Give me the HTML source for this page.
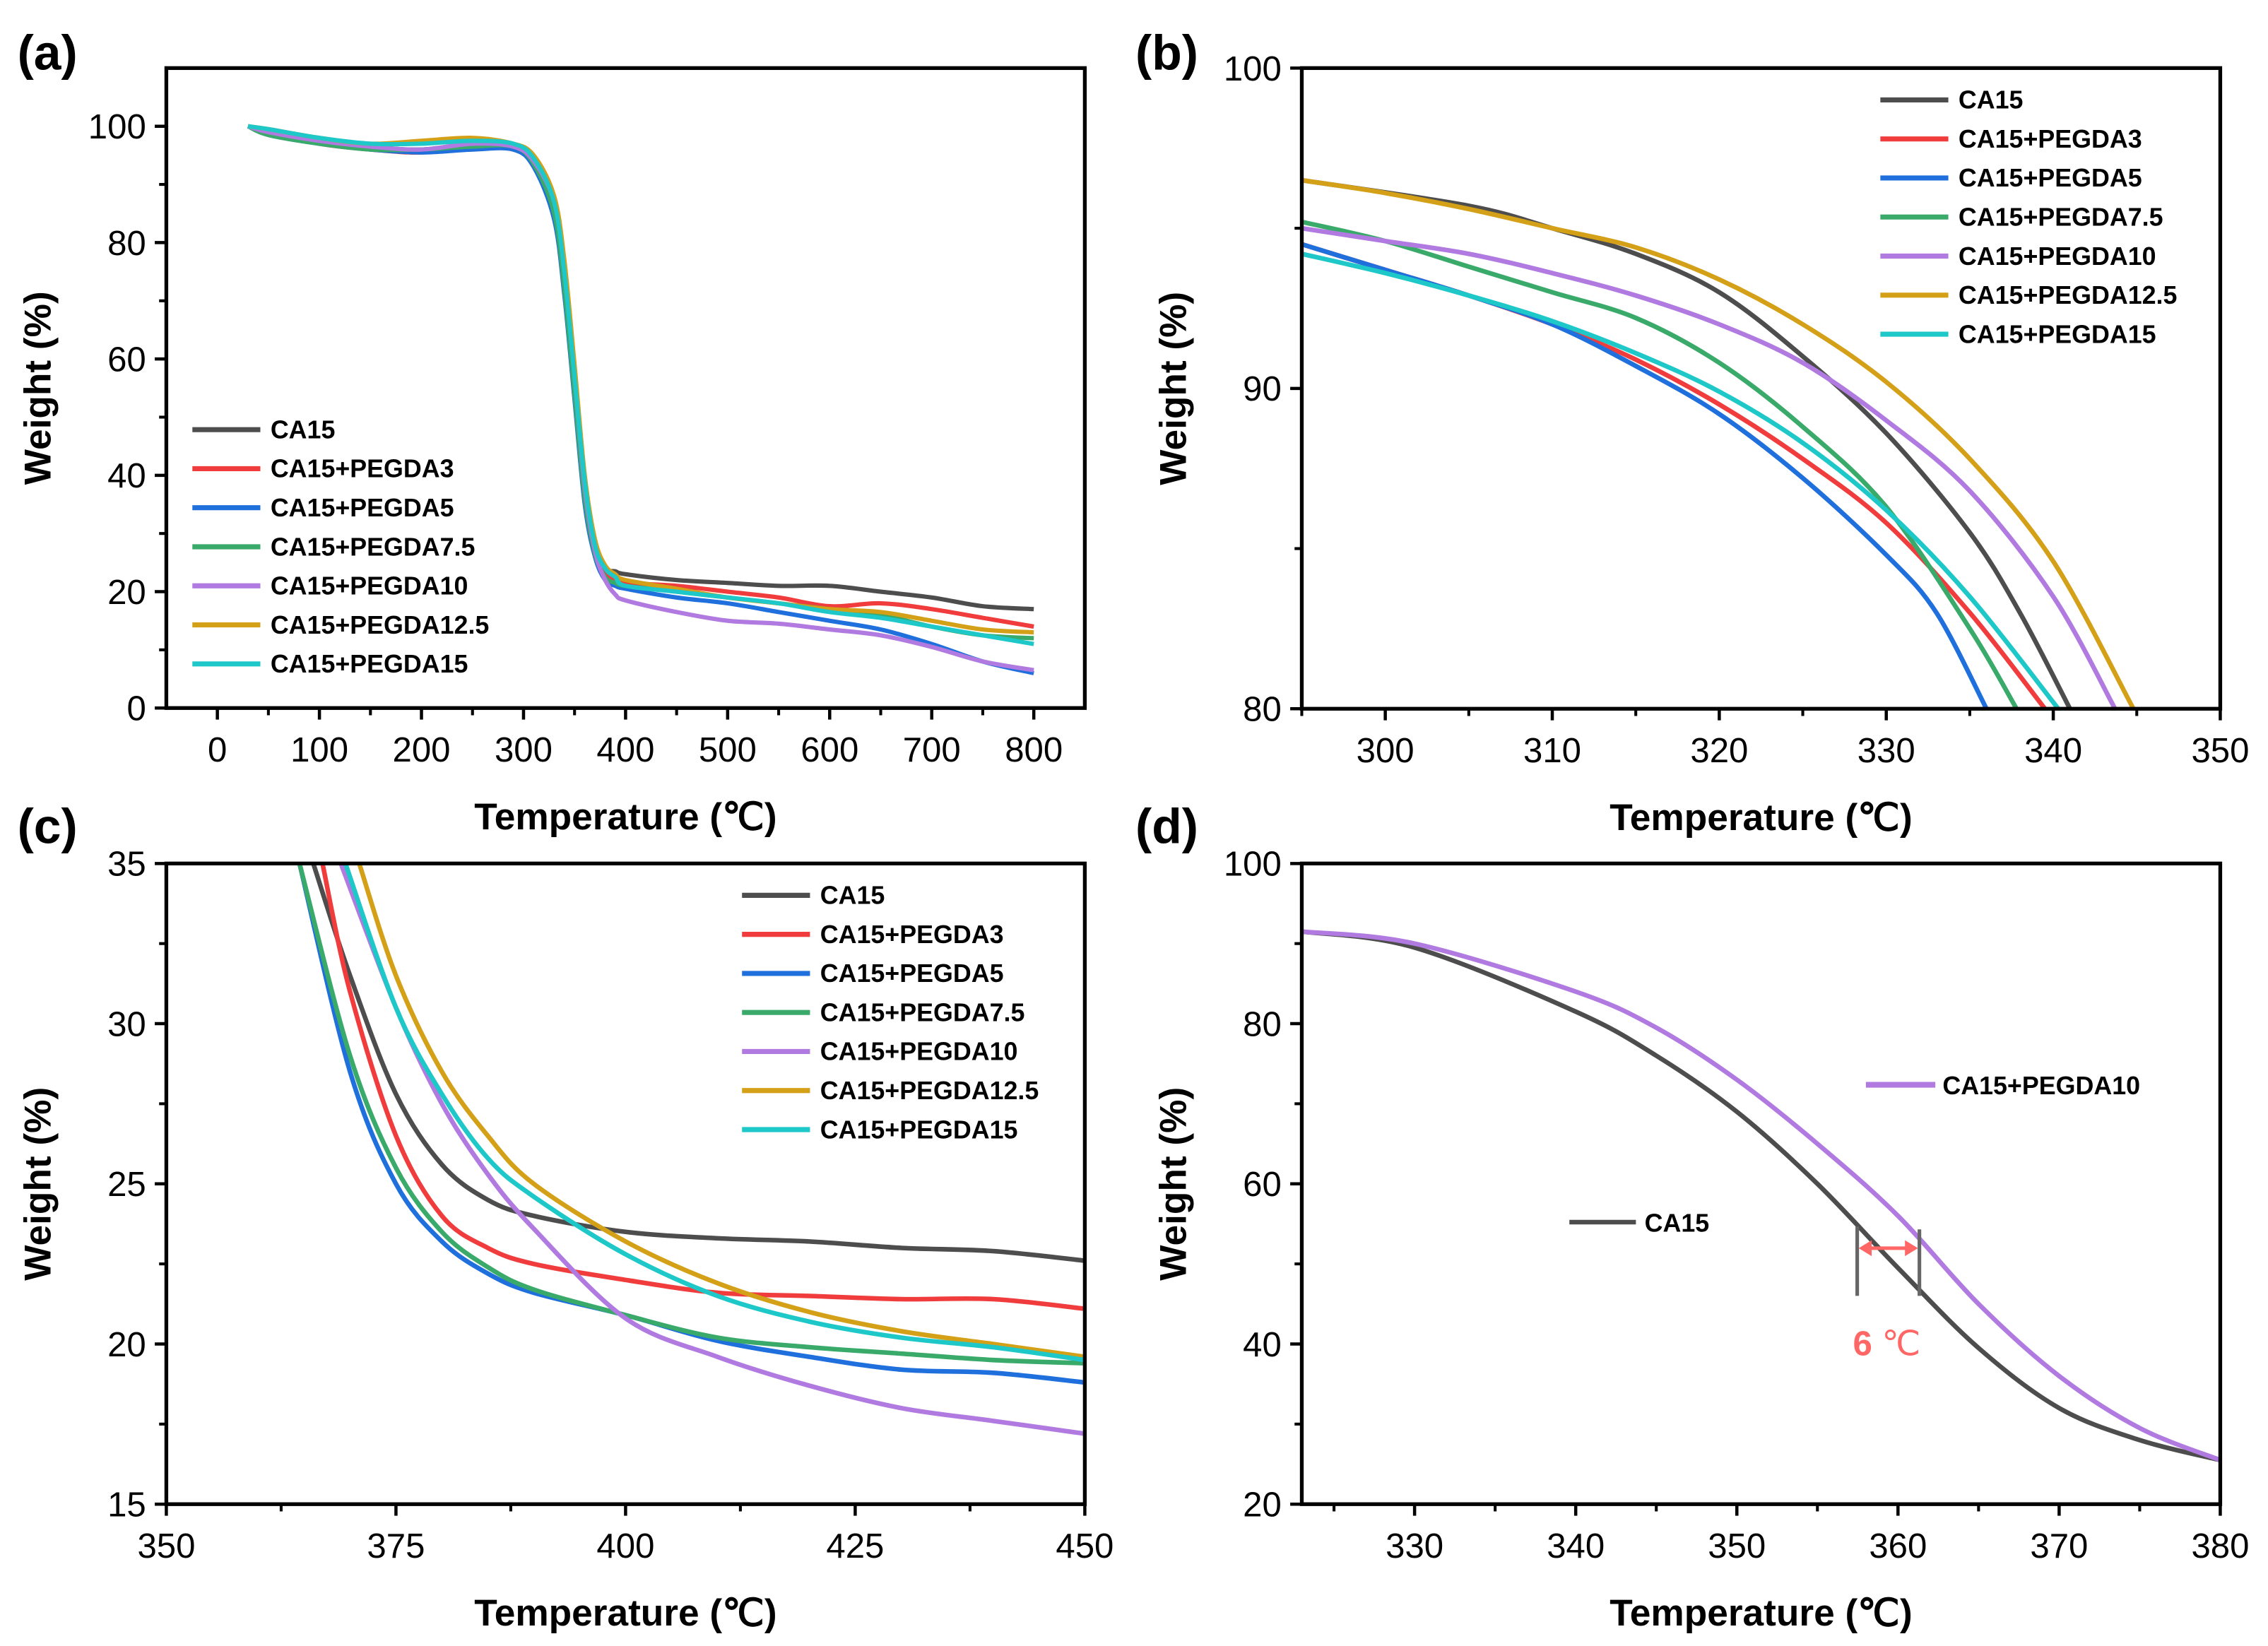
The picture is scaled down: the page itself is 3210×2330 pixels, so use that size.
<!DOCTYPE html>
<html><head><meta charset="utf-8"><title>TGA curves</title>
<style>
html,body{margin:0;padding:0;background:#fff;}
svg{display:block;font-family:"Liberation Sans",Arial,sans-serif;}
</style></head>
<body>
<svg id="fig" width="3210" height="2330" viewBox="0 0 1568 1138" xmlns="http://www.w3.org/2000/svg"></svg>
<script>
// ---------- DATA ----------
const seriesNames = ["CA15","CA15+PEGDA3","CA15+PEGDA5","CA15+PEGDA7.5","CA15+PEGDA10","CA15+PEGDA12.5","CA15+PEGDA15"];
const seriesKeys = ["ca15","pegda3","pegda5","pegda7-5","pegda10","pegda12-5","pegda15"];
const seriesColors = ["#4d4d4d","#f03c3c","#1f6fdc","#3aaa6a","#b07ae0","#d4a017","#1ec8c8"];

// Panel (a): full TGA
const tempsA = [30,50,100,150,200,250,290,310,330,340,350,360,370,380,390,400,450,500,550,600,650,700,750,800];
const aCA15    = [100,99,97.5,96.5,96,97,96.5,94,86,74,56,38,28,24,23.5,23,22,21.5,21,21,20,19,17.5,17];
const aPEGDA3  = [100,99,97,96,95.5,96.5,96,93.5,85,72,54,36,27,23,22,21.5,21,20,19,17.5,18,17,15.5,14];
const aPEGDA5  = [100,98.5,97,96,95.5,96,96,93,84,71,53,35,26,22,21,20.5,19,18,16.5,15,13.5,11,8,6];
const aPEGDA75 = [100,98.5,97,96,96,96.5,96.5,93.5,85,72,54,36,26.5,22.5,21.5,21,20,19,18,17,16,14,12.5,12];
const aPEGDA10 = [100,99,97.5,96.5,96,97,96.5,94,87,75,57,38,27,22,19.5,18.5,16.5,15,14.5,13.5,12.5,10.5,8,6.5];
const aPEGDA125= [100,99.5,98,97,97.5,98,97,95,88,77,59,40,29,24.5,23,22,20.5,19,18,17,16.5,15,13.5,13];
const aPEGDA15 = [100,99.5,98,97,97,97.5,97,94.5,87,75,57,39,28,24,22.5,21,20,19,18,16.5,15.5,14,12.5,11];
const seriesA = [aCA15,aPEGDA3,aPEGDA5,aPEGDA75,aPEGDA10,aPEGDA125,aPEGDA15];

// Panel (b): zoom 295-350
const bT_CA15 = [295,305,310,315,320,325,330,335,338,341];
const bW_CA15 = [96.5,95.7,95.0,94.2,93.0,91.0,88.6,85.5,83,80];
const bT_P3 = [295,300,305,310,315,320,325,330,335,339.5];
const bW_P3 = [94.5,93.7,92.9,92.0,90.9,89.5,87.8,85.8,83,80];
const bT_P5 = [295,300,305,310,315,320,325,330,333,336];
const bW_P5 = [94.5,93.7,92.9,92.0,90.7,89.2,87.2,84.8,83,80];
const bT_P75 = [295,300,305,310,315,320,325,330,335,337.8];
const bW_P75 = [95.2,94.6,93.8,93.0,92.2,90.8,88.8,86.3,82.5,80];
const bT_P10 = [295,300,305,310,315,320,325,330,335,340,343.7];
const bW_P10 = [95.0,94.6,94.2,93.6,92.9,92.0,90.8,89.0,86.8,83.5,80];
const bT_P125 = [295,300,305,310,315,320,325,330,335,340,344.8];
const bW_P125 = [96.5,96.1,95.6,95.0,94.4,93.4,92.0,90.2,87.8,84.6,80];
const bT_P15 = [295,300,305,310,315,320,325,330,335,340.3];
const bW_P15 = [94.2,93.6,92.9,92.1,91.1,89.9,88.3,86.2,83.5,80];
const seriesBT = [bT_CA15,bT_P3,bT_P5,bT_P75,bT_P10,bT_P125,bT_P15];
const seriesBW = [bW_CA15,bW_P3,bW_P5,bW_P75,bW_P10,bW_P125,bW_P15];

// Panel (c): zoom 350-450
const cT_CA15 = [366,370,375,380,385,390,400,410,420,430,440,450];
const cW_CA15 = [35,31.5,27.8,25.6,24.5,24,23.5,23.3,23.2,23,22.9,22.6];
const cT_P3 = [367,370,375,380,385,390,400,410,420,430,440,450];
const cW_P3 = [35,31,26.5,24,23,22.5,22,21.6,21.5,21.4,21.4,21.1];
const cT_P5 = [364.5,370,375,380,385,390,400,410,420,430,440,450];
const cW_P5 = [35,28.5,25,23.2,22.2,21.6,20.9,20.1,19.6,19.2,19.1,18.8];
const cT_P75 = [364.5,370,375,380,385,390,400,410,420,430,440,450];
const cW_P75 = [35,29,25.5,23.5,22.4,21.7,20.9,20.2,19.9,19.7,19.5,19.4];
const cT_P10 = [369,375,380,385,390,400,410,420,430,440,450];
const cW_P10 = [35,30.5,27.5,25.3,23.6,20.8,19.6,18.7,18.0,17.6,17.2];
const cT_P125 = [371,375,380,385,390,400,410,420,430,440,450];
const cW_P125 = [35,31.5,28.5,26.5,25,23.2,21.9,21,20.4,20,19.6];
const cT_P15 = [369.5,375,380,385,390,400,410,420,430,440,450];
const cW_P15 = [35,30.5,27.8,25.8,24.6,22.8,21.5,20.7,20.2,19.9,19.5];
const seriesCT = [cT_CA15,cT_P3,cT_P5,cT_P75,cT_P10,cT_P125,cT_P15];
const seriesCW = [cW_CA15,cW_P3,cW_P5,cW_P75,cW_P10,cW_P125,cW_P15];

// Panel (d): CA15 vs PEGDA10
const dTemps = [323,330,340,345,350,355,360,365,370,375,380];
const dCA15 = [91.5,89.5,81.5,76,69,60,49.5,39.5,32,28,25.5];
const dPEGDA10 = [91.5,90,84,79.5,73,65,56,45,36,29.5,25.5];

// tick labels
const ticksAx = [0,100,200,300,400,500,600,700,800];
const ticksAy = [0,20,40,60,80,100];
const ticksBx = [300,310,320,330,340,350];
const ticksBy = [80,90,100];
const ticksCx = [350,375,400,425,450];
const ticksCy = [15,20,25,30,35];
const ticksDx = [330,340,350,360,370,380];
const ticksDy = [20,40,60,80,100];

// ---------- DRAWING ----------
const NS = "http://www.w3.org/2000/svg";
const svg = document.getElementById("fig");
function mk(tag, attrs, parent){
  const e = document.createElementNS(NS, tag);
  for (const k in attrs) e.setAttribute(k, attrs[k]);
  (parent||svg).appendChild(e);
  return e;
}
function makeAxes(x0,x1,y0,y1,xmin,xmax,ymin,ymax){
  return {
    sx: v => x0 + (v - xmin) / (xmax - xmin) * (x1 - x0),
    sy: v => y1 - (v - ymin) / (ymax - ymin) * (y1 - y0),
    x0, x1, y0, y1, xmin, xmax, ymin, ymax
  };
}
function smoothPath(pts){
  if (pts.length < 2) return "";
  let d = "M" + pts[0][0].toFixed(2) + "," + pts[0][1].toFixed(2);
  for (let i = 0; i < pts.length - 1; i++){
    const p0 = pts[i-1] || pts[i], p1 = pts[i], p2 = pts[i+1], p3 = pts[i+2] || p2;
    const c1x = p1[0] + (p2[0]-p0[0])/6, c1y = p1[1] + (p2[1]-p0[1])/6;
    const c2x = p2[0] - (p3[0]-p1[0])/6, c2y = p2[1] - (p3[1]-p1[1])/6;
    d += " C" + c1x.toFixed(2)+","+c1y.toFixed(2)+" "+c2x.toFixed(2)+","+c2y.toFixed(2)+" "+p2[0].toFixed(2)+","+p2[1].toFixed(2);
  }
  return d;
}
function drawFrame(g, ax, xt, xminor, yt, yminor){
  const gr = mk("g", {}, g);
  
  
  mk("rect", {x:ax.x0, y:ax.y0, width:ax.x1-ax.x0, height:ax.y1-ax.y0, fill:"none", stroke:"#000", "stroke-width":2.6}, gr);
  const xg = mk("g", {}, g);
  
  
  for (const v of xt){
    const x = ax.sx(v);
    mk("line", {x1:x, x2:x, y1:ax.y1, y2:ax.y1+8, stroke:"#000", "stroke-width":2.2}, xg);
    const t = mk("text", {x:x, y:ax.y1+37, "text-anchor":"middle", "font-size":24, fill:"#000"}, xg);
    t.textContent = v;
    
    
  }
  for (const v of xminor){
    const x = ax.sx(v);
    mk("line", {x1:x, x2:x, y1:ax.y1, y2:ax.y1+5, stroke:"#000", "stroke-width":2}, xg);
  }
  const yg = mk("g", {}, g);
  
  
  for (const v of yt){
    const y = ax.sy(v);
    mk("line", {x1:ax.x0-8, x2:ax.x0, y1:y, y2:y, stroke:"#000", "stroke-width":2.2}, yg);
    const t = mk("text", {x:ax.x0-14, y:y+8.5, "text-anchor":"end", "font-size":24, fill:"#000"}, yg);
    t.textContent = v;
    
    
  }
  for (const v of yminor){
    const y = ax.sy(v);
    mk("line", {x1:ax.x0-5, x2:ax.x0, y1:y, y2:y, stroke:"#000", "stroke-width":2}, yg);
  }
}
function titles(g, ax, labelText, labelX, labelY){
  const xt = mk("text", {x:(ax.x0+ax.x1)/2, y:ax.y1+84, "text-anchor":"middle", "font-size":26, "font-weight":"bold", fill:"#000"}, g);
  xt.textContent = "Temperature (℃)";
  
  
  const cy = (ax.y0+ax.y1)/2;
  const yx = ax.x0 - 80;
  const yt = mk("text", {x:yx, y:cy, "text-anchor":"middle", "font-size":26, "font-weight":"bold", fill:"#000", transform:"rotate(-90 "+yx+" "+cy+")"}, g);
  yt.textContent = "Weight (%)";
  
  
  const pl = mk("text", {x:labelX, y:labelY, "font-size":34, "font-weight":"bold", fill:"#000"}, g);
  pl.textContent = labelText;
  
  
}
function clipFor(id, ax){
  const cp = mk("clipPath", {id:id});
  mk("rect", {x:ax.x0, y:ax.y0, width:ax.x1-ax.x0, height:ax.y1-ax.y0}, cp);
}
function legend(g, x, y, step, idxs){
  const lg = mk("g", {}, g);
  
  
  idxs.forEach((i, k) => {
    const yy = y + k*step;
    const en = mk("g", {}, lg);
    
    
    mk("line", {x1:x, x2:x+47, y1:yy, y2:yy, stroke:seriesColors[i], "stroke-width":3.5}, en);
    const t = mk("text", {x:x+54, y:yy+6, "font-size":17.5, "font-weight":"bold", fill:"#000"}, en);
    t.textContent = seriesNames[i];
  });
}
function range(a,b,s){ const r=[]; for(let v=a; v<=b+1e-9; v+=s) r.push(+v.toFixed(4)); return r; }

// Panel A
(function(){
  const g = mk("g", {});  
  const ax = makeAxes(115,750,47,489.5,-50,850,0,110);
  clipFor("ca", ax);
  const lines = mk("g", {"clip-path":"url(#ca)"}, g);
  seriesA.forEach((vals, i) => {
    const p = mk("path", {d:smoothPath(tempsA.map((t,k)=>[ax.sx(t), ax.sy(vals[k])])), fill:"none", stroke:seriesColors[i], "stroke-width":3, "stroke-linejoin":"round"}, lines);
    
    
  });
  drawFrame(g, ax, ticksAx, range(-50,850,100).filter(v=>v>-50&&v<850), ticksAy, [10,30,50,70,90]);
  titles(g, ax, "(a)", 12, 48);
  legend(g, 133, 297, 27, [0,1,2,3,4,5,6]);
})();

// Panel B
(function(){
  const g = mk("g", {});  
  const ax = makeAxes(900,1535,47,490,295,350,80,100);
  clipFor("cb", ax);
  const lines = mk("g", {"clip-path":"url(#cb)"}, g);
  seriesBT.forEach((ts, i) => {
    const p = mk("path", {d:smoothPath(ts.map((t,k)=>[ax.sx(t), ax.sy(seriesBW[i][k])])), fill:"none", stroke:seriesColors[i], "stroke-width":3.2, "stroke-linejoin":"round"}, lines);
    
    
  });
  drawFrame(g, ax, ticksBx, [295,305,315,325,335,345], ticksBy, [85,95]);
  titles(g, ax, "(b)", 785, 48);
  legend(g, 1300, 69, 27, [0,1,2,3,4,5,6]);
})();

// Panel C
(function(){
  const g = mk("g", {});  
  const ax = makeAxes(115,750,597,1040,350,450,15,35);
  clipFor("cc", ax);
  const lines = mk("g", {"clip-path":"url(#cc)"}, g);
  seriesCT.forEach((ts, i) => {
    const p = mk("path", {d:smoothPath(ts.map((t,k)=>[ax.sx(t), ax.sy(seriesCW[i][k])])), fill:"none", stroke:seriesColors[i], "stroke-width":3.2, "stroke-linejoin":"round"}, lines);
    
    
  });
  drawFrame(g, ax, ticksCx, [362.5,387.5,412.5,437.5], ticksCy, [17.5,22.5,27.5,32.5]);
  titles(g, ax, "(c)", 12, 583);
  legend(g, 513, 619, 27, [0,1,2,3,4,5,6]);
})();

// Panel D
(function(){
  const g = mk("g", {});  
  const ax = makeAxes(900,1535,597,1040,323,380,20,100);
  clipFor("cd", ax);
  const lines = mk("g", {"clip-path":"url(#cd)"}, g);
  const p1 = mk("path", {d:smoothPath(dTemps.map((t,k)=>[ax.sx(t), ax.sy(dCA15[k])])), fill:"none", stroke:seriesColors[0], "stroke-width":3.2}, lines);
  
  
  const p2 = mk("path", {d:smoothPath(dTemps.map((t,k)=>[ax.sx(t), ax.sy(dPEGDA10[k])])), fill:"none", stroke:seriesColors[4], "stroke-width":3.2}, lines);
  
  
  drawFrame(g, ax, ticksDx, [325,335,345,355,365,375], ticksDy, [30,50,70,90]);
  titles(g, ax, "(d)", 785, 583);
  // legends
  const l1 = mk("g", {}, g);  
  mk("line", {x1:1085, x2:1131, y1:845, y2:845, stroke:seriesColors[0], "stroke-width":3.2}, l1);
  const t1 = mk("text", {x:1137, y:851.5, "font-size":17.5, "font-weight":"bold"}, l1); t1.textContent = "CA15";
  const l2 = mk("g", {}, g);  
  mk("line", {x1:1290, x2:1338, y1:750, y2:750, stroke:seriesColors[4], "stroke-width":4}, l2);
  const t2 = mk("text", {x:1343, y:756.5, "font-size":17.5, "font-weight":"bold"}, l2); t2.textContent = "CA15+PEGDA10";
  // annotation
  const an = mk("g", {}, g);  
  mk("line", {x1:1284, x2:1284, y1:848, y2:896, stroke:"#666", "stroke-width":2.5}, an);
  mk("line", {x1:1327, x2:1327, y1:850, y2:896, stroke:"#666", "stroke-width":2.5}, an);
  mk("line", {x1:1292, x2:1319, y1:863, y2:863, stroke:"#f66", "stroke-width":2.5}, an);
  mk("polygon", {points:"1285,863 1294,857.5 1294,868.5", fill:"#f66"}, an);
  mk("polygon", {points:"1326,863 1317,857.5 1317,868.5", fill:"#f66"}, an);
  const at = mk("text", {x:1281, y:937, "font-size":24, fill:"#f66"}, an);
  at.innerHTML = '<tspan font-weight="bold">6</tspan> ℃';
  
})();
</script>
</body></html>
